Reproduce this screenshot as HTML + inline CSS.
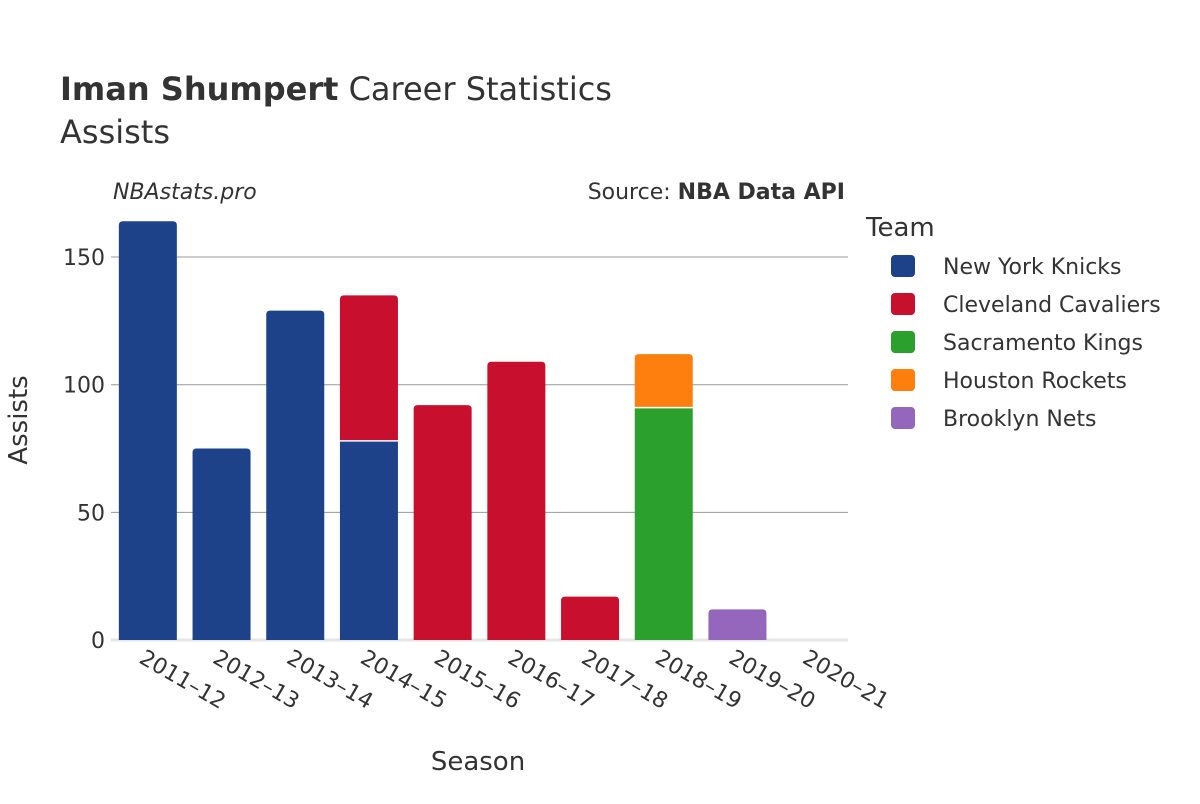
<!DOCTYPE html>
<html><head><meta charset="utf-8"><style>
body{margin:0;background:#fff;font-family:"DejaVu Sans","Liberation Sans",sans-serif;}
</style></head><body>
<svg width="1200" height="800" xmlns="http://www.w3.org/2000/svg" font-family="DejaVu Sans, Liberation Sans, sans-serif">
<text x="60" y="100" font-size="32" fill="#333"><tspan font-weight="bold">Iman Shumpert</tspan> Career Statistics</text>
<text x="60" y="143" font-size="32" fill="#333">Assists</text>
<text x="113" y="199" font-size="22" font-style="italic" fill="#333">NBAstats.pro</text>
<text x="845" y="199" font-size="22" fill="#333" text-anchor="end">Source: <tspan font-weight="bold">NBA Data API</tspan></text>
<g id="grid"></g>
<g id="bars"></g>
<g id="xt"></g>
<text x="478" y="770" font-size="26" fill="#333" text-anchor="middle">Season</text>
<text transform="translate(27,420) rotate(-90)" font-size="26" fill="#333" text-anchor="middle">Assists</text>
<text x="866" y="236" font-size="26" fill="#333">Team</text>
<g id="legend"></g>
</svg>
<script>
const seasons=["2011–12","2012–13","2013–14","2014–15","2015–16","2016–17","2017–18","2018–19","2019–20","2020–21"];
const teams=["New York Knicks","Cleveland Cavaliers","Sacramento Kings","Houston Rockets","Brooklyn Nets"];
const colors=["#1d428a","#c8102e","#2ca02c","#ff7f0e","#9467bd"];
const nyk=[164,75,129,78,0,0,0,0,0,0];
const cle=[0,0,0,57,92,109,17,0,0,0];
const sac=[0,0,0,0,0,0,0,91,0,0];
const hou=[0,0,0,0,0,0,0,21,0,0];
const bkn=[0,0,0,0,0,0,0,0,12,0];
const yTicks=[0,50,100,150];
const series=[nyk,cle,sac,hou,bkn];
const NS="http://www.w3.org/2000/svg";
const L=111,R=848,Y0=640,PX=2.553;
const y=v=>Y0-v*PX;
const step=(R-L)/seasons.length;
const xc=i=>L+step*(i+0.5);
function mk(t,a,p){const e=document.createElementNS(NS,t);for(const k in a)e.setAttribute(k,a[k]);p.appendChild(e);return e;}
const grid=document.getElementById('grid');
yTicks.forEach(t=>{
 if(t>0){const l=mk('line',{x1:L,x2:R,y1:y(t),y2:y(t),stroke:'#999','stroke-width':1},grid);
 
 }
 const tx=mk('text',{x:L-6,y:y(t)+8,'font-size':22,fill:'#333','text-anchor':'end'},grid);tx.textContent=t;
 
 
});
const zl=mk('line',{x1:L,x2:R,y1:Y0,y2:Y0,stroke:'#e6e6e6','stroke-width':3},grid);


const bars=document.getElementById('bars');const bw=58;
seasons.forEach((s,i)=>{
 let base=0;const segs=[];
 series.forEach((ser,k)=>{if(ser[i]>0){segs.push([k,base,ser[i]]);base+=ser[i];}});
 segs.forEach(([k,b,v],j)=>{
  const top=y(b+v),bot=y(b),x0=xc(i)-bw/2,r=(j==segs.length-1)?4:0;
  const d=`M${x0},${bot}V${top+r}Q${x0},${top} ${x0+r},${top}H${x0+bw-r}Q${x0+bw},${top} ${x0+bw},${top+r}V${bot}Z`;
  const p=mk('path',{d:d,fill:colors[k],stroke:'#fff','stroke-width':j>0?0:0},bars);
  
  
  if(j>0){const sep=mk('line',{x1:x0,x2:x0+bw,y1:bot,y2:bot,stroke:'#fff','stroke-width':1.5},bars);
  
  }
 });
 const t=mk('text',{'font-size':22,fill:'#333',transform:`translate(${xc(i)-10},${662}) rotate(30)`},document.getElementById('xt'));
 t.textContent=s;
 
 
});
const lg=document.getElementById('legend');
teams.forEach((tm,k)=>{
 const yy=266+k*38;
 const g=mk('g',{},lg);
 
 
 mk('rect',{x:891,y:yy-11,width:24,height:22,rx:4,fill:colors[k]},g);
 const t=mk('text',{x:943,y:yy+8,'font-size':22,fill:'#333'},g);t.textContent=tm;
});
</script>
</body></html>
